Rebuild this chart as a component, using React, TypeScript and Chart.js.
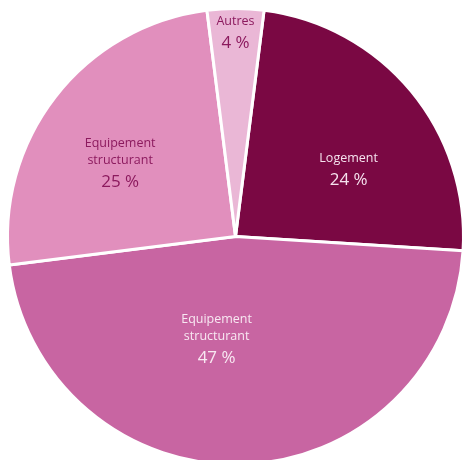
import React, { useEffect, useRef } from "react";
import { Chart, registerables } from "chart.js";

Chart.register(...registerables);

const categories = ["Logement", "Equipement structurant", "Equipement structurant", "Autres"];
const labelLines = [["Logement"], ["Equipement", "structurant"], ["Equipement", "structurant"], ["Autres"]];
const values = [24, 47, 25, 4];
const colors = ["#7a0843", "#c865a2", "#e18fbd", "#eab7d6"];
const textColors = ["#f6e2ee", "#f8e8f2", "#8c1a5e", "#8c1a5e"];

// label anchor: [angle from top in degrees, distance as fraction of radius]
const labelAnchors: [number, number][] = [
  [59.3, 0.577],
  [190.5, 0.455],
  [302.5, 0.6],
  [0, 0.895],
];

const labelPlugin = {
  id: "sliceLabels",
  afterDatasetsDraw(chart: any) {
    const meta = chart.getDatasetMeta(0);
    const ctx = chart.ctx;
    ctx.save();
    ctx.textAlign = "center";
    ctx.textBaseline = "middle";
    meta.data.forEach((arc: any, i: number) => {
      const [deg, frac] = labelAnchors[i];
      const a = (deg * Math.PI) / 180;
      const r = arc.outerRadius * frac;
      const cx = arc.x + r * Math.sin(a);
      const cy = arc.y - r * Math.cos(a);
      const lines = labelLines[i];
      const pct = values[i] + " %";
      ctx.fillStyle = textColors[i];
      const lineH = 17;
      const pctGap = 22;
      const total = (lines.length - 1) * lineH + pctGap;
      let y = cy - total / 2;
      ctx.font = "12.5px 'Open Sans'";
      lines.forEach((l, k) => {
        ctx.fillText(l, cx, y);
        if (k < lines.length - 1) y += lineH;
      });
      y += pctGap;
      ctx.font = "17px 'Open Sans'";
      ctx.fillText(pct, cx, y);
    });
    ctx.restore();
  },
};

export default function App() {
  const ref = useRef<HTMLCanvasElement>(null);
  useEffect(() => {
    if (!ref.current) return;
    const chart = new Chart(ref.current, {
      type: "pie",
      data: {
        labels: categories,
        datasets: [
          {
            data: values,
            backgroundColor: colors,
            borderColor: "#ffffff",
            borderWidth: 3,
          },
        ],
      },
      options: {
        responsive: false,
        animation: false,
        rotation: 7.2,
        layout: { padding: { left: 6, right: 7, top: 7, bottom: 8 } },
        plugins: {
          legend: { display: false },
          tooltip: { enabled: false },
        },
      },
      plugins: [labelPlugin],
    });
    return () => chart.destroy();
  }, []);
  return (
    <div style={{ position: "fixed", left: 0, top: 0, width: 463, height: 460, overflow: "hidden", background: "#fff" }}>
      <canvas ref={ref} width={472} height={474} style={{ display: "block", width: 472, height: 474 }} />
    </div>
  );
}
